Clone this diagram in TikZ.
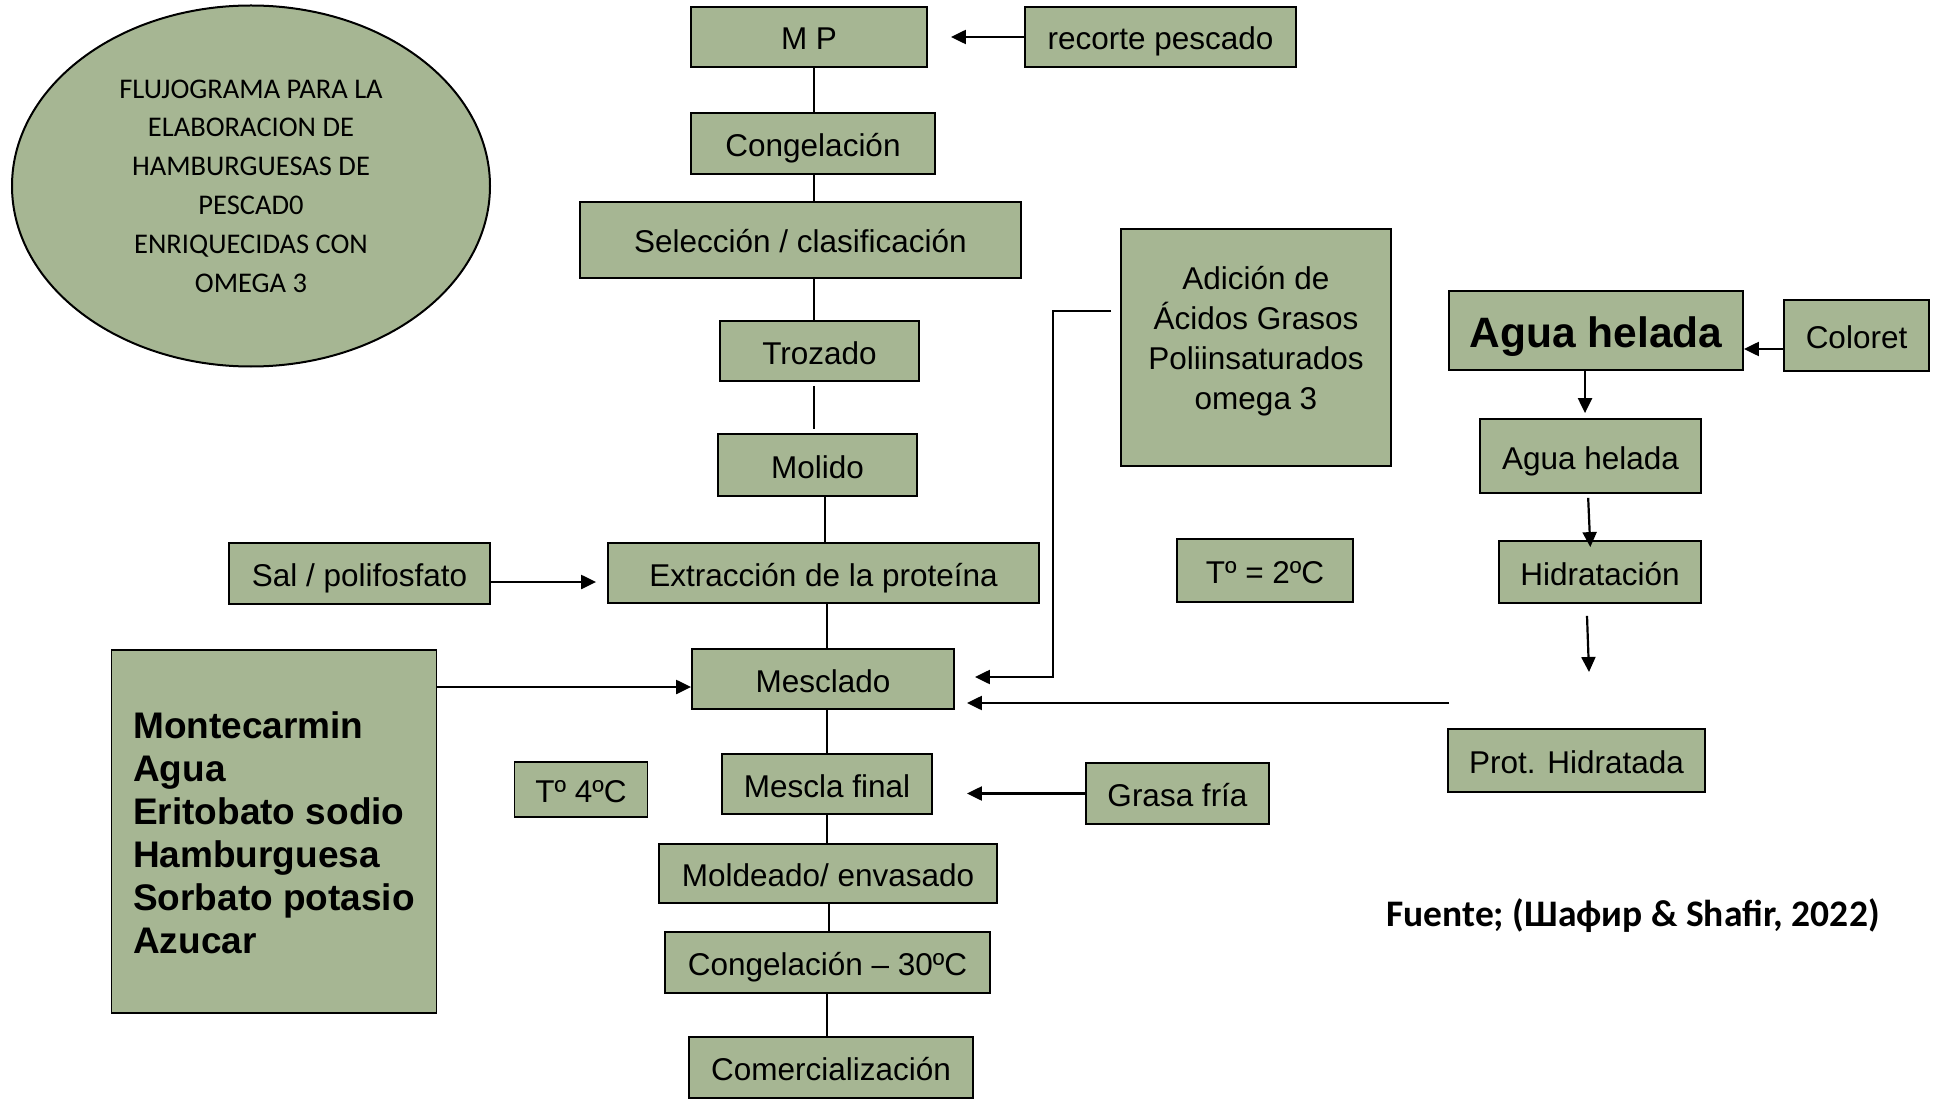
\documentclass[tikz,border=0pt]{standalone}
\usepackage{fontspec}
\setmainfont{Liberation Sans}
\newfontfamily\calibri{Carlito}
\usetikzlibrary{arrows.meta,shapes.geometric,calc}
\definecolor{olivefill}{RGB}{166,182,147}
\tikzset{
  box/.style={draw=black, line width=1.8pt, fill=olivefill, inner sep=0pt,
    align=center, text height=31pt, text depth=5pt,
    font=\fontsize{31.5}{40}\selectfont},
  link/.style={line width=1.8pt},
  arr/.style={line width=2.2pt, -{Triangle[length=15pt,width=14pt]}},
}
\begin{document}
\begin{tikzpicture}[x=1pt,y=-1pt]
\useasboundingbox (0,0) rectangle (1935,1099);

% title ellipse
\node[draw=black, line width=2pt, fill=olivefill, ellipse, inner sep=0pt,
  minimum width=478pt, minimum height=361pt, align=center,
  font=\calibri\fontsize{28.5}{38.8}\selectfont] (title) at (251,186)
  {FLUJOGRAMA PARA LA\\ELABORACION DE\\HAMBURGUESAS DE\\PESCAD0\\ENRIQUECIDAS CON\\OMEGA 3};

% main process column
\node[box, minimum width=236pt, minimum height=60pt] (mp) at (809,37) {M P};
\node[box, minimum width=271pt, minimum height=60pt] (recorte) at (1160.5,37) {recorte pescado};
\node[box, minimum width=244pt, minimum height=61pt] (cong) at (813,143.5) {Congelación};
\node[box, minimum width=441pt, minimum height=76pt] (selec) at (800.5,240) {Selección / clasificación};
\node[box, minimum width=199pt, minimum height=60pt] (trozado) at (819.5,351) {Trozado};
\node[box, minimum width=199pt, minimum height=62pt] (molido) at (817.5,465) {Molido};
\node[box, minimum width=431pt, minimum height=60pt] (extr) at (823.5,573) {Extracción de la proteína};
\node[box, minimum width=261pt, minimum height=61pt] (sal) at (359.5,573.5) {Sal / polifosfato};
\node[box, minimum width=262pt, minimum height=60pt] (mesclado) at (823,679) {Mesclado};
\node[box, minimum width=210pt, minimum height=60pt] (mescla) at (827,784) {Mescla final};
\node[box, minimum width=183pt, minimum height=61pt] (grasa) at (1177.5,793.5) {Grasa fría};
\node[box, minimum width=338pt, minimum height=59pt] (moldeado) at (828,873.5) {Moldeado/ envasado};
\node[box, minimum width=325pt, minimum height=61pt] (cong30) at (827.5,962.5) {Congelación – 30ºC};
\node[box, minimum width=284pt, minimum height=61pt] (comerc) at (831,1067.5) {Comercialización};

% ingredients and temperatures
\node[box, minimum width=325pt, minimum height=363pt] (montec) at (274,831.5) {};
\node[anchor=west, align=left, inner sep=0pt,
  font=\bfseries\fontsize{37}{43}\selectfont] (montectext) at (133,833)
  {Montecarmin\\Agua\\Eritobato sodio\\Hamburguesa\\Sorbato potasio\\Azucar};
\node[box, minimum width=133pt, minimum height=55pt] (t4) at (581,789.5) {Tº 4ºC};
\node[box, minimum width=270pt, minimum height=237pt] (adicion) at (1256,347.5) {};
\node[align=center, font=\fontsize{31.5}{40}\selectfont] (adiciontext) at (1256,341)
  {Adición de\\Ácidos Grasos\\Poliinsaturados\\omega 3};
\node[box, minimum width=176pt, minimum height=63pt] (t2) at (1265,570.5) {Tº = 2ºC};

% hydration branch
\node[box, minimum width=294pt, minimum height=79pt, text height=42pt, text depth=8pt,
  font=\bfseries\fontsize{42.5}{50}\selectfont] (aguab) at (1596,330.5) {Agua helada};
\node[box, minimum width=145pt, minimum height=71pt] (coloret) at (1856.5,335.5) {Coloret};
\node[box, minimum width=221pt, minimum height=74pt] (aguas) at (1590.5,456) {Agua helada};
\node[box, minimum width=202pt, minimum height=62pt] (hidrat) at (1600,572) {Hidratación};
\node[box, minimum width=257pt, minimum height=63pt] (prot) at (1576.5,760.5) {Prot. Hidratada};

% source note
\node[font=\calibri\bfseries\fontsize{37.5}{44}\selectfont] (fuente) at (1633,916)
  {Fuente; (Шафир \& Shafir, 2022)};

% column guide positions
\coordinate (colA) at (814,0);
\coordinate (colB) at (825,0);
\coordinate (colC) at (827,0);
\coordinate (colD) at (829,0);

% main column links
\draw[link] (mp.south -| colA) -- (cong.north -| colA);
\draw[link] (cong.south -| colA) -- (selec.north -| colA);
\draw[link] (selec.south -| colA) -- (trozado.north -| colA);
\draw[link, shorten <=4pt, shorten >=4pt] (trozado.south -| colA) -- (molido.north -| colA);
\draw[link] (molido.south -| colB) -- (extr.north -| colB);
\draw[link] (extr.south -| colC) -- (mesclado.north -| colC);
\draw[link] (mesclado.south -| colC) -- (mescla.north -| colC);
\draw[link] (mescla.south -| colC) -- (moldeado.north -| colC);
\draw[link] (moldeado.south -| colD) -- (cong30.north -| colD);
\draw[link] (cong30.south -| colC) -- (comerc.north -| colC);

% inputs
\draw[arr, shorten >=23pt] (recorte.west) -- (mp.east);
\draw[arr, shorten >=11pt] ([yshift=-8.5pt]sal.east) -- ([yshift=-8.5pt]sal.east -| extr.west);
\draw[arr] ([yshift=-8pt]mesclado.west -| montec.east) -- ([yshift=-8pt]mesclado.west);
\draw[arr, shorten >=20pt] ([xshift=-9pt,yshift=36.5pt]adicion.west)
  -| ([xshift=98pt,yshift=2pt]mesclado.east) -- ([yshift=2pt]mesclado.east);
\coordinate (protin) at (1449,703);
\draw[arr, shorten >=12pt] (protin) -- (protin -| mesclado.east);
\draw[arr, shorten >=34pt] (grasa.west) -- (grasa.west -| mescla.east);

% hydration branch arrows
\draw[arr] ([yshift=-18.5pt]aguab.east -| coloret.west) -- ([yshift=-18.5pt]aguab.east);
\draw[arr, shorten >=5pt] ([xshift=-11pt]aguab.south) -- ([xshift=-11pt]aguab.south |- aguas.north);
\draw[arr, shorten <=4pt, shorten >=-7pt] ([xshift=-2.5pt]aguas.south) -- ([xshift=-10pt]hidrat.north);
\coordinate (hidout) at (1589,672);
\draw[arr] ([xshift=-13pt,yshift=-12pt]hidrat.south) -- (hidout);
\end{tikzpicture}
\end{document}
